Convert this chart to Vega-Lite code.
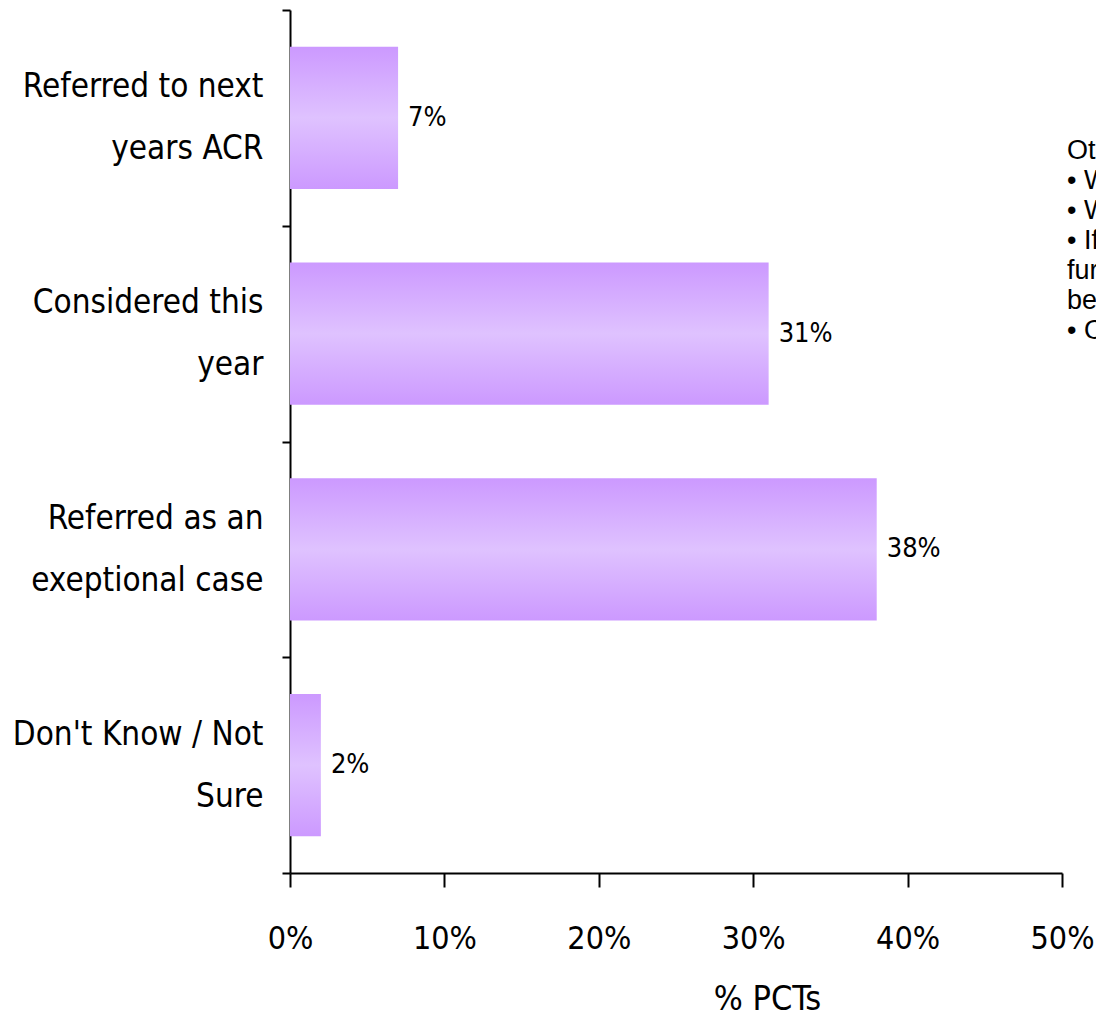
{
  "$schema": "https://vega.github.io/schema/vega-lite/v6.json",
  "autosize": {"type": "none"},
  "width": 772,
  "height": 863,
  "padding": {"left": 290, "top": 10, "right": 34, "bottom": 141},
  "background": "white",
  "config": {"view": {"stroke": null}, "font": "DejaVu Sans Condensed"},
  "data": {
    "values": [
      {"answer": "Referred to next|years ACR", "share": 0.07},
      {"answer": "Considered this|year", "share": 0.31},
      {"answer": "Referred as an|exeptional case", "share": 0.38},
      {"answer": "Don't Know / Not|Sure", "share": 0.02}
    ]
  },
  "layer": [
    {
      "mark": {
        "type": "bar",
        "height": {"band": 0.66},
        "color": {
          "gradient": "linear",
          "x1": 0, "y1": 0, "x2": 0, "y2": 1,
          "stops": [
            {"offset": 0, "color": "#cc99ff"},
            {"offset": 0.5, "color": "#dfc2ff"},
            {"offset": 1, "color": "#cc99ff"}
          ]
        }
      },
      "encoding": {
        "y": {
          "field": "answer", "type": "nominal", "sort": null,
          "scale": {"paddingInner": 0, "paddingOuter": 0},
          "axis": {
            "title": null,
            "labelExpr": "split(datum.label, '|')",
            "labelFontSize": 33,
            "labelLineHeight": 62,
            "labelOffset": -31,
            "labelColor": "black",
            "labelLimit": 0,
            "labelPadding": 19,
            "tickSize": 8,
            "tickWidth": 2,
            "tickColor": "black",
            "tickBand": "extent",
            "domainColor": "black",
            "domainWidth": 2
          }
        },
        "x": {
          "field": "share", "type": "quantitative",
          "scale": {"domain": [0, 0.5]},
          "axis": {
            "title": "% PCTs",
            "format": ".0%",
            "values": [0, 0.1, 0.2, 0.3, 0.4, 0.5],
            "labelOverlap": false,
            "grid": false,
            "labelFontSize": 32,
            "labelColor": "black",
            "labelPadding": 36,
            "labelFlush": false,
            "tickSize": 14,
            "tickWidth": 2,
            "tickColor": "black",
            "domainColor": "black",
            "domainWidth": 2,
            "titleFontSize": 34,
            "titleFontWeight": "normal",
            "titleColor": "black",
            "titleX": 477,
            "titleY": 136,
            "titleBaseline": "alphabetic"
          }
        }
      }
    },
    {
      "mark": {"type": "text", "align": "left", "baseline": "middle", "dx": 10, "fontSize": 27, "color": "black"},
      "encoding": {
        "y": {"field": "answer", "type": "nominal", "sort": null},
        "x": {"field": "share", "type": "quantitative"},
        "text": {"field": "share", "type": "quantitative", "format": ".0%"}
      }
    },
    {
      "data": {
        "values": [
          {
            "answer": "Referred to next|years ACR",
            "share": 0.5032,
            "note": ["Other:", "• Would depend on the case", "• Within existing budgets", "• If significant, would need", "further funding, would not", "be decided alone", "• Other"]
          }
        ]
      },
      "mark": {"type": "text", "align": "left", "baseline": "top", "dy": 20, "font": "Liberation Sans", "fontSize": 27, "lineHeight": 30, "color": "black"},
      "encoding": {
        "y": {"field": "answer", "type": "nominal", "sort": null},
        "x": {"field": "share", "type": "quantitative"},
        "text": {"field": "note"}
      }
    }
  ]
}
